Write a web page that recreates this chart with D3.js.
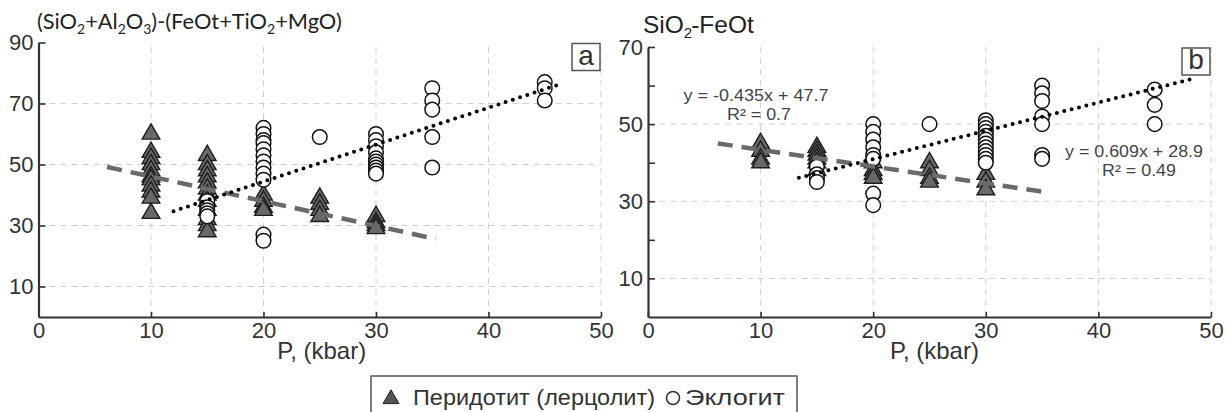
<!DOCTYPE html>
<html>
<head>
<meta charset="utf-8">
<script src="https://cdn.jsdelivr.net/npm/d3@7"></script>
<style>
  body { margin: 0; background: #fff; }
  svg { display: block; }
  .tick text { font-family: "Liberation Sans", Arial, sans-serif; font-size: 22px; fill: #333; }
</style>
</head>
<body>
<svg id="chart"></svg>
<script>
// P, kbar positions and values
const pressures = [0, 10, 20, 30, 40, 50];

// panel a: (SiO2+Al2O3)-(FeOt+TiO2+MgO)
const periA_P = [10, 15, 20, 25, 30];
const periA_V = [
    [60, 54, 52, 50, 48, 46, 45, 43, 41, 39, 34],
    [53, 50, 48, 46, 44, 42, 40, 38, 35, 32, 30, 28],
    [40, 38, 36, 35],
    [39, 37, 35, 33],
    [33, 31, 30, 29],
];
const ecloA_P = [15, 20, 25, 30, 35, 45];
const ecloA_V = [
    [38, 36, 35, 34, 33],
    [62, 60, 58, 57, 55, 53, 51, 49, 47, 45, 27, 25],
    [59],
    [60, 58, 56, 54, 52, 51, 50, 49, 48, 47],
    [75, 71, 68, 59, 49],
    [77, 75, 71],
];
const trendA_peri = [[6.1, 49.2], [35.3, 25.6]];
const trendA_eclo = [[12, 34.7], [46.4, 76.4]];

// panel b: SiO2-FeOt
const periB_P = [10, 15, 20, 25, 30];
const periB_V = [
    [45, 43, 41, 40],
    [44, 43, 42, 41, 40, 38],
    [40, 38, 37, 36],
    [40, 38, 36, 35],
    [37, 35, 33],
];
const ecloB_P = [15, 20, 25, 30, 35, 45];
const ecloB_V = [
    [39, 37, 36, 35],
    [50, 48, 46, 44, 42, 41, 32, 29],
    [50],
    [51, 50, 49, 48, 47, 46, 45, 44, 43, 42, 41, 40],
    [60, 58, 56, 52, 50, 42, 41],
    [59, 55, 50],
];
const trendB_peri = [[6.2, 45.0], [35.7, 32.2]];
const trendB_eclo = [[13.4, 36.1], [48.3, 61.7]];

const eqB_peri = ["y = -0.435x + 47.7", "R² = 0.7"];
const eqB_eclo = ["y = 0.609x + 28.9", "R² = 0.49"];

const legendLabels = ["Перидотит (лерцолит)", "Эклогит"];

const W = 1228, H = 412;
const font = '"Liberation Sans", Arial, sans-serif';

let svg = d3.select("svg#chart").attr("width", W).attr("height", H);
svg.append("rect").attr("width", W).attr("height", H).attr("fill", "#fff");

function flatten(ps, vs) {
    let out = [];
    ps.forEach((p, i) => vs[i].forEach(v => out.push([p, v])));
    return out;
}

function drawPanel(conf) {
    let x = d3.scaleLinear().domain([0, 50]).range(conf.xr);
    let y = d3.scaleLinear().domain([0, conf.ymax]).range(conf.yr);
    let g = svg.append("g");

    // grid
    g.selectAll()
        .data(pressures.slice(1))
        .enter()
        .append("line")
        .attr("x1", d => x(d)).attr("x2", d => x(d))
        .attr("y1", y(0)).attr("y2", y(conf.ymax))
        .attr("stroke", "#cfcfcf")
        .attr("stroke-dasharray", "6 5");
    g.selectAll()
        .data(conf.grid)
        .enter()
        .append("line")
        .attr("x1", x(0)).attr("x2", x(50))
        .attr("y1", d => y(d)).attr("y2", d => y(d))
        .attr("stroke", "#cfcfcf")
        .attr("stroke-dasharray", "6 5");

    // axes
    let ax = g.append("g")
        .attr("transform", `translate(0,${y(0)})`)
        .call(d3.axisBottom(x).tickValues(pressures).tickSize(-5).tickSizeOuter(0).tickPadding(5));
    let ay = g.append("g")
        .attr("transform", `translate(${x(0)},0)`)
        .call(d3.axisLeft(y).tickValues(conf.yticks).tickSize(-7).tickSizeOuter(0).tickPadding(5)
            .tickFormat(d => conf.ylabels.includes(d) ? d : ""));
    [ax, ay].forEach(a => {
        a.select(".domain").attr("stroke", "#333").attr("stroke-width", 2.2);
        a.selectAll(".tick line").attr("stroke", "#333").attr("stroke-width", 1.6);
    });

    // peridotite triangles
    g.selectAll()
        .data(flatten(conf.periP, conf.periV))
        .enter()
        .append("path")
        .attr("d", d3.symbol().type(d3.symbolTriangle).size(135))
        .attr("transform", d => `translate(${x(d[0])},${y(d[1])})`)
        .attr("fill", "#696969")
        .attr("stroke", "#1e1e1e")
        .attr("stroke-width", 1.4);

    // eclogite circles
    g.selectAll()
        .data(flatten(conf.ecloP, conf.ecloV))
        .enter()
        .append("circle")
        .attr("cx", d => x(d[0]))
        .attr("cy", d => y(d[1]))
        .attr("r", 7.3)
        .attr("fill", "#fff")
        .attr("stroke", "#111")
        .attr("stroke-width", 1.5);

    let line = d3.line().x(d => x(d[0])).y(d => y(d[1]));
    g.append("path")
        .attr("d", line(conf.trendPeri))
        .attr("stroke", "#6a6a6a")
        .attr("stroke-width", 4.5)
        .attr("stroke-dasharray", "15 9")
        .attr("fill", "none");
    g.append("path")
        .attr("d", line(conf.trendEclo))
        .attr("stroke", "#000")
        .attr("stroke-width", 4)
        .attr("stroke-linecap", "round")
        .attr("stroke-dasharray", "0 7.6")
        .attr("fill", "none");

    // panel letter box
    let bx = x(50) - 29, by = y(conf.ymax) + 1;
    g.append("rect")
        .attr("x", bx).attr("y", by).attr("width", 28).attr("height", 27)
        .attr("fill", "#fff").attr("stroke", "#555").attr("stroke-width", 1.5);
    g.append("text")
        .attr("x", bx + 14).attr("y", by + 21)
        .attr("text-anchor", "middle")
        .style("font-family", font).style("font-size", "28px").attr("fill", "#333")
        .text(conf.letter);

    // x label
    g.append("text")
        .attr("x", (x(0) + x(50)) / 2 + conf.xlabOff)
        .attr("y", 359)
        .attr("text-anchor", "middle")
        .style("font-family", font).style("font-size", "24px").attr("fill", "#333")
        .text("P, (kbar)");

    return { x, y, g };
}

let pa = drawPanel({
    xr: [38.5, 601], yr: [317, 42.5], ymax: 90,
    grid: [10, 30, 50, 70], yticks: [10, 30, 50, 70, 90], ylabels: [10, 30, 50, 70, 90],
    periP: periA_P, periV: periA_V, ecloP: ecloA_P, ecloV: ecloA_V,
    trendPeri: trendA_peri, trendEclo: trendA_eclo, letter: "a", xlabOff: 2,
});
let pb = drawPanel({
    xr: [648, 1211], yr: [317, 47], ymax: 70,
    grid: [10, 30, 50], yticks: [10, 20, 30, 40, 50, 60, 70], ylabels: [10, 30, 50, 70],
    periP: periB_P, periV: periB_V, ecloP: ecloB_P, ecloV: ecloB_V,
    trendPeri: trendB_peri, trendEclo: trendB_eclo, letter: "b", xlabOff: 5,
});

// titles
let ta = svg.append("text")
    .attr("x", 37).attr("y", 29)
    .style("font-family", "Lato, 'Open Sans', sans-serif").style("font-size", "21.8px").attr("fill", "#222");
ta.append("tspan").text("(SiO");
ta.append("tspan").attr("dy", 5).style("font-size", "14px").text("2");
ta.append("tspan").attr("dy", -5).text("+Al");
ta.append("tspan").attr("dy", 5).style("font-size", "14px").text("2");
ta.append("tspan").attr("dy", -5).text("O");
ta.append("tspan").attr("dy", 5).style("font-size", "14px").text("3");
ta.append("tspan").attr("dy", -5).text(")-(FeOt+TiO");
ta.append("tspan").attr("dy", 5).style("font-size", "14px").text("2");
ta.append("tspan").attr("dy", -5).text("+MgO)");

let tb = svg.append("text")
    .attr("x", 643).attr("y", 33)
    .style("font-family", font).style("font-size", "24.5px").attr("fill", "#222");
tb.append("tspan").text("SiO");
tb.append("tspan").attr("dy", 5).style("font-size", "15px").text("2");
tb.append("tspan").attr("dy", -5).attr("dx", -1).text("-FeOt");

// regression labels in panel b
function eqText(lines, xs, y0, len) {
    svg.append("g").selectAll()
        .data(lines)
        .enter()
        .append("text")
        .attr("x", (d, i) => xs[i])
        .attr("y", (d, i) => y0 + i * 19)
        .attr("text-anchor", "middle")
        .attr("textLength", (d, i) => len[i])
        .attr("lengthAdjust", "spacingAndGlyphs")
        .style("font-family", font).style("font-size", "16.5px").attr("fill", "#444")
        .text(d => d);
}
eqText(eqB_peri, [756, 759], 101, [145, 64]);
eqText(eqB_eclo, [1134, 1139], 157, [138, 74]);

// legend
let lg = svg.append("g");
lg.append("rect")
    .attr("x", 371).attr("y", 376).attr("width", 426).attr("height", 45)
    .attr("fill", "#fff").attr("stroke", "#555").attr("stroke-width", 1.5);
lg.append("path")
    .attr("d", d3.symbol().type(d3.symbolTriangle).size(110))
    .attr("transform", "translate(391,399)")
    .attr("fill", "#555").attr("stroke", "#222").attr("stroke-width", 1);
lg.append("circle")
    .attr("cx", 673).attr("cy", 398).attr("r", 6.5)
    .attr("fill", "none").attr("stroke", "#333").attr("stroke-width", 1.5);
lg.selectAll()
    .data(legendLabels)
    .enter()
    .append("text")
    .attr("x", (d, i) => [413, 685][i])
    .attr("y", 405)
    .attr("textLength", (d, i) => [242, 100][i])
    .attr("lengthAdjust", "spacingAndGlyphs")
    .style("font-family", font).style("font-size", "22.5px").attr("fill", "#333")
    .text(d => d);
</script>
</body>
</html>
